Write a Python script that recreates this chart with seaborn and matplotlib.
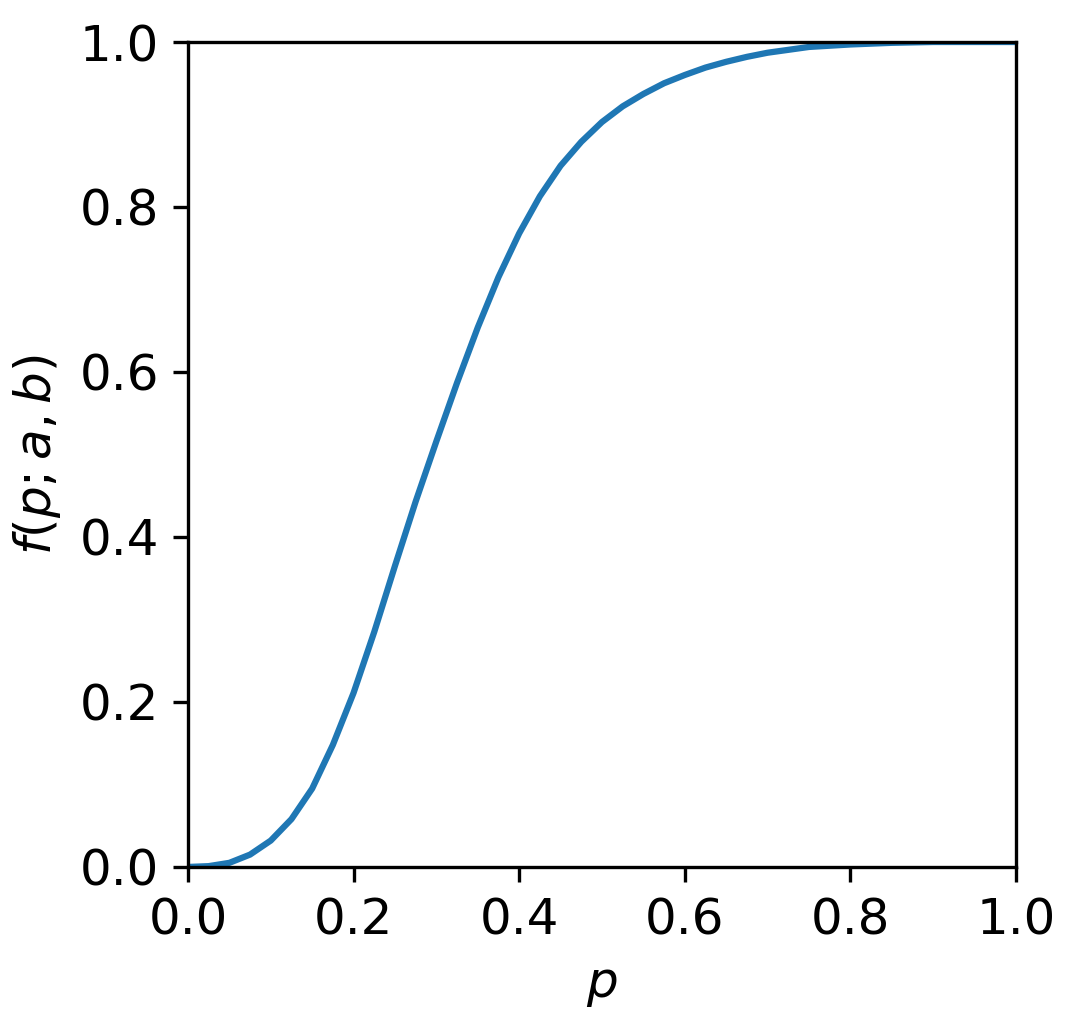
import matplotlib

matplotlib.use("Agg")
import matplotlib.pyplot as plt
import pandas as pd
import seaborn as sns

# values
p_values = [0.0, 0.025, 0.05, 0.075, 0.1, 0.125, 0.15, 0.175, 0.2, 0.225, 0.25,
            0.275, 0.3, 0.325, 0.35, 0.375, 0.4, 0.425, 0.45, 0.475, 0.5,
            0.525, 0.55, 0.575, 0.6, 0.625, 0.65, 0.675, 0.7, 0.75, 0.8,
            0.85, 0.9, 0.95, 1.0]
f_values = [0.0, 0.001, 0.005, 0.015, 0.032, 0.058, 0.095, 0.148, 0.211, 0.285, 0.365,
            0.443, 0.516, 0.587, 0.654, 0.715, 0.768, 0.813, 0.850, 0.879, 0.903,
            0.922, 0.937, 0.950, 0.960, 0.969, 0.976, 0.982, 0.987, 0.994, 0.997,
            0.999, 1.0, 1.0, 1.0]

df = pd.DataFrame({"p": p_values, "f": f_values})

sns.set_style("ticks", {
    "text.color": "black",
    "axes.labelcolor": "black",
    "axes.edgecolor": "black",
    "xtick.color": "black",
    "ytick.color": "black",
})
plt.rcParams["font.family"] = ["DejaVu Sans"]
plt.rcParams["font.size"] = 12

fig = plt.figure(figsize=(1079 / 300, 1022 / 300), dpi=300)
ax = fig.add_axes([0.1742, 0.1517, 0.7674, 0.8072])
sns.lineplot(x="p", y="f", data=df, ax=ax, color="#1f77b4", linewidth=1.5)
ax.set_xlim(0, 1)
ax.set_ylim(0, 1)
ax.set_xticks([0.0, 0.2, 0.4, 0.6, 0.8, 1.0])
ax.set_yticks([0.0, 0.2, 0.4, 0.6, 0.8, 1.0])
ax.tick_params(labelsize=12, length=3.5, width=0.8)
for s in ax.spines.values():
    s.set_linewidth(0.8)
ax.set_xlabel("$p$", fontsize=12)
ax.set_ylabel("$f(p; a, b)$", fontsize=12)
fig.savefig("out.png", dpi=300)
